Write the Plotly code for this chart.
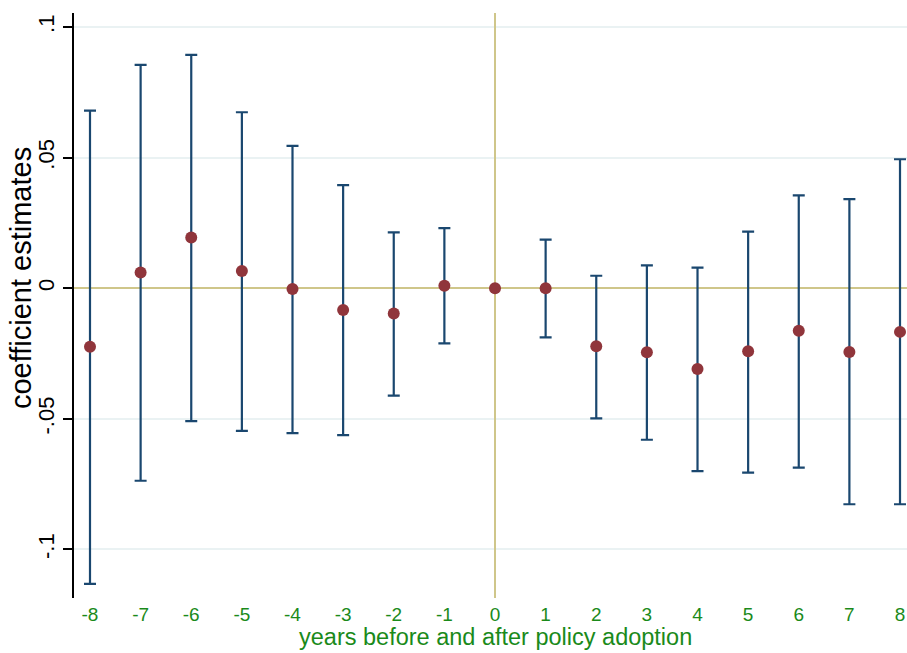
import plotly.graph_objects as go

years = [-8, -7, -6, -5, -4, -3, -2, -1, 0, 1, 2, 3, 4, 5, 6, 7, 8]
coef = [-0.0224, 0.0060, 0.0194, 0.0066, -0.0003, -0.0083, -0.0097, 0.0010, 0.0,
        0.0, -0.0222, -0.0245, -0.0309, -0.0241, -0.0163, -0.0244, -0.0167]
upper = [0.0680, 0.0855, 0.0894, 0.0674, 0.0545, 0.0395, 0.0214, 0.0230, 0.0,
         0.0186, 0.0048, 0.0088, 0.0079, 0.0217, 0.0356, 0.0341, 0.0494]
lower = [-0.1132, -0.0737, -0.0509, -0.0546, -0.0555, -0.0562, -0.0411, -0.0211, 0.0,
         -0.0188, -0.0498, -0.0580, -0.0700, -0.0706, -0.0687, -0.0827, -0.0827]
ytick_vals = [-0.1, -0.05, 0, 0.05, 0.1]
ytick_text = ["-.1", "-.05", "0", ".05", ".1"]
x_title = "years before and after policy adoption"
y_title = "coefficient estimates"

err_plus = [u - c for u, c in zip(upper, coef)]
err_minus = [c - l for c, l in zip(coef, lower)]
has_bar = [not (u == 0 and l == 0) for u, l in zip(upper, lower)]
bx = [x for x, h in zip(years, has_bar) if h]
bc = [c for c, h in zip(coef, has_bar) if h]
bp = [e for e, h in zip(err_plus, has_bar) if h]
bm = [e for e, h in zip(err_minus, has_bar) if h]

navy = "#1a476f"
maroon = "#90353b"
khaki = "#cfc68a"
green = "#1a8a1a"

fig = go.Figure()
fig.add_trace(go.Scatter(
    x=bx, y=bc, mode="markers",
    marker=dict(size=0.1, color="rgba(0,0,0,0)"),
    error_y=dict(type="data", symmetric=False, array=bp, arrayminus=bm,
                 color=navy, thickness=2.2, width=6),
    hoverinfo="skip", showlegend=False,
))
fig.add_trace(go.Scatter(
    x=years, y=coef, mode="markers",
    marker=dict(size=12, color=maroon),
    showlegend=False,
))

fig.update_layout(
    width=907, height=653,
    margin=dict(l=74, r=0, t=13, b=55),
    paper_bgcolor="white", plot_bgcolor="white",
    font=dict(family="Liberation Sans, Arial, sans-serif", color="black"),
    xaxis=dict(
        range=[-8.316, 8.138], tickmode="array", tickvals=years,
        ticktext=[str(y) for y in years],
        showgrid=False, showline=False, ticks="",
        zeroline=True, zerolinecolor=khaki, zerolinewidth=2,
        tickfont=dict(size=19, color=green), ticklabelstandoff=3,
    ),
    yaxis=dict(
        range=[-0.1186, 0.1054], tickmode="array", tickvals=ytick_vals,
        ticktext=ytick_text, tickangle=-90,
        showgrid=True, gridcolor="#eaf2f3", gridwidth=2,
        zeroline=True, zerolinecolor=khaki, zerolinewidth=2,
        showline=True, linecolor="black", linewidth=1.5,
        ticks="outside", ticklen=9, tickwidth=1.5, tickcolor="black",
        tickfont=dict(size=22, color="black"),
    ),
    annotations=[
        dict(text=x_title, xref="paper", yref="paper", x=0.5055, y=-0.0667,
             xanchor="center", yanchor="middle", showarrow=False,
             font=dict(size=23.5, color=green)),
        dict(text=y_title, xref="paper", yref="paper", x=-0.0636, y=0.547,
             xanchor="center", yanchor="middle", textangle=-90, showarrow=False,
             font=dict(size=29, color="black")),
    ],
)

fig.write_html("out.html")
